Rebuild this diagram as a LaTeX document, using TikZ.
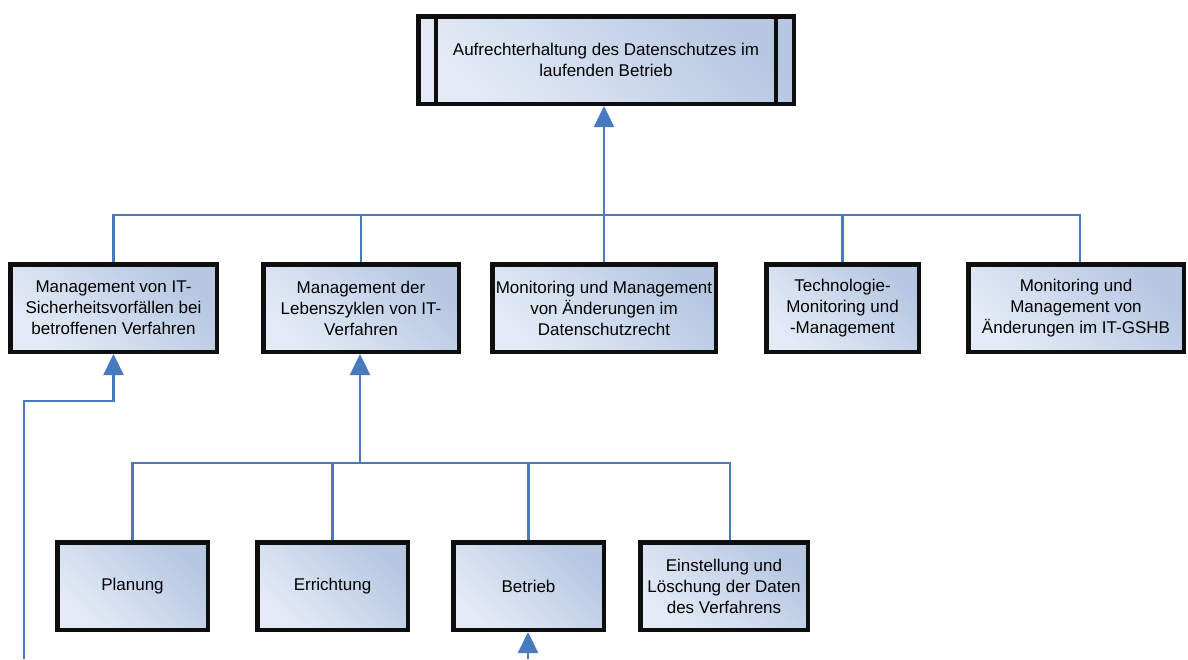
\documentclass[tikz,border=0pt]{standalone}
\usepackage{fontspec}
\setmainfont{Liberation Sans}
\usetikzlibrary{arrows.meta}

\begin{document}
\begin{tikzpicture}[x=1pt,y=-1pt]

% Colors
\definecolor{boxlight}{RGB}{228,235,246}
\definecolor{boxmid}{RGB}{198,211,233}
\definecolor{boxdark}{RGB}{182,199,226}
\definecolor{linkblue}{RGB}{72,122,192}
\definecolor{boxedge}{RGB}{14,14,14}

\tikzset{
  task/.style={draw=boxedge, line width=4.5pt, inner sep=0pt, align=center,
    minimum height=87.5pt, left color=boxlight, middle color=boxmid,
    right color=boxdark, shading angle=135, font=\fontsize{17}{21}\selectfont},
  link/.style={draw=linkblue, line width=2.4pt},
  arr/.style={link, -{Triangle[width=20pt,length=21pt]}}
}

\useasboundingbox (0,0) rectangle (1188,659);

% Top box
\node[task, minimum width=375.5pt] (top) at (606,60)
  {Aufrechterhaltung des Datenschutzes im\\laufenden Betrieb};
\draw[boxedge, line width=4.5pt] ([xshift=20pt]top.north west) -- ([xshift=20pt]top.south west);
\draw[boxedge, line width=4.5pt] ([xshift=-20pt]top.north east) -- ([xshift=-20pt]top.south east);

% Second level
\node[task, minimum width=206.5pt] (m1) at (113.5,308)
  {Management von IT-\\Sicherheitsvorfällen bei\\betroffenen Verfahren};
\node[task, minimum width=195.5pt] (m2) at (361,308)
  {Management der\\Lebenszyklen von IT-\\Verfahren};
\node[task, minimum width=223.5pt] (m3) at (604,308)
  {Monitoring und Management\\von Änderungen im\\Datenschutzrecht};
\node[task, minimum width=152.5pt] (m4) at (842.5,308)
  {Technologie-\\Monitoring und\\-Management};
\node[task, minimum width=215.5pt] (m5) at (1076,308)
  {Monitoring und\\Management von\\Änderungen im IT-GSHB};

% Phases
\node[task, minimum width=150.5pt] (p1) at (132.5,586) {Planung};
\node[task, minimum width=150.5pt] (p2) at (332.5,586) {Errichtung};
\node[task, minimum width=150.5pt] (p3) at (528.5,586) {Betrieb};
\node[task, minimum width=167.5pt] (p4) at (724,586)
  {Einstellung und\\Löschung der Daten\\des Verfahrens};

% Bus lines
\coordinate (bus) at (605,215);
\coordinate (bus2) at (360,463);
\coordinate (inA) at (24,659);
\coordinate (inB) at (528,659);

\foreach \n in {m1,m2,m4} {
  \draw[link] (\n.north) |- (bus);
}
\draw[link] ([xshift=4pt]m5.north) |- (bus);
\draw[arr] (m3.north) -- (m3.north |- top.south);

\foreach \n in {p1,p2,p3} {
  \draw[link] (\n.north) |- (bus2);
}
\draw[link] ([xshift=6pt]p4.north) |- (bus2);
\draw[arr] (bus2) -- (bus2 |- m2.south);

% Incoming arrows
\draw[arr] (inA) |- ([yshift=-47pt]m1.south) -- (m1.south);
\draw[arr] (inB) -- (inB |- p3.south);

\end{tikzpicture}
\end{document}
